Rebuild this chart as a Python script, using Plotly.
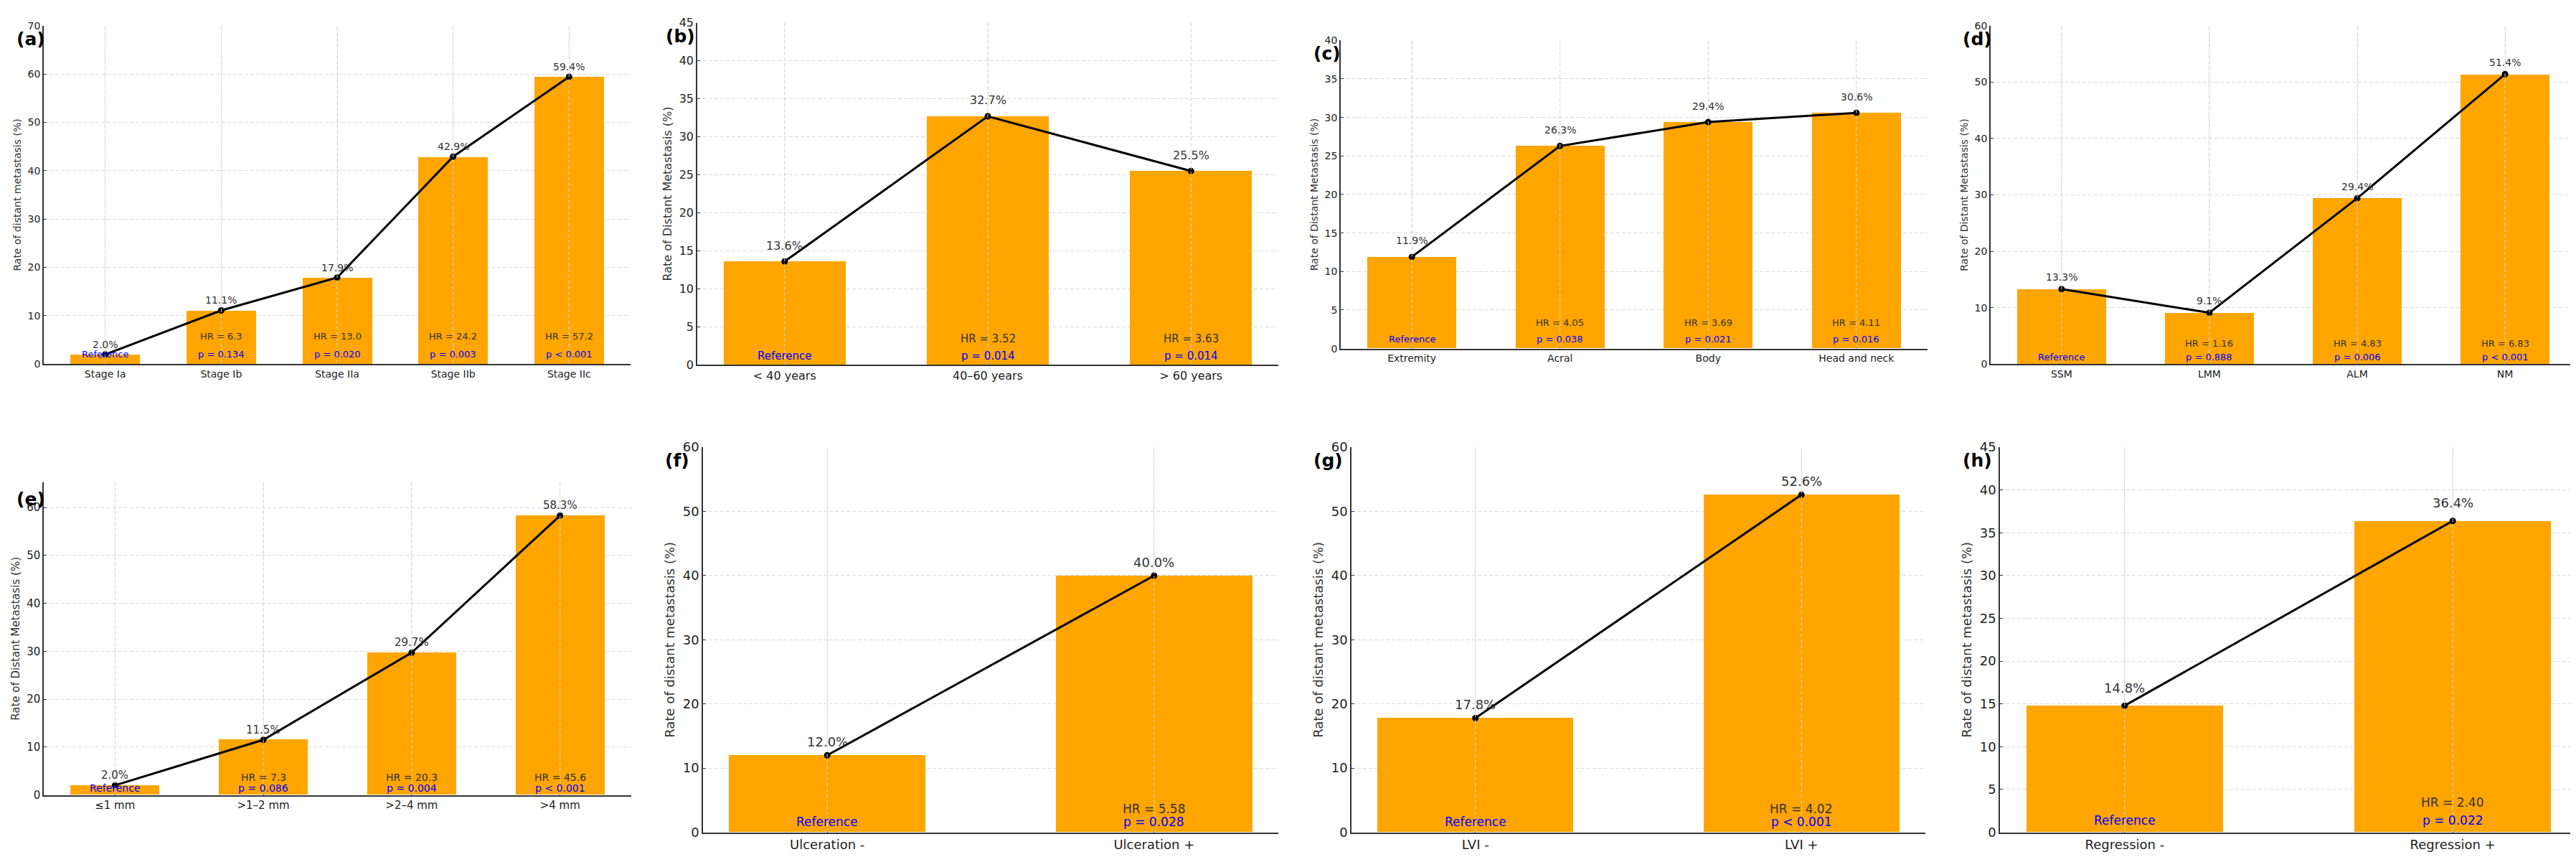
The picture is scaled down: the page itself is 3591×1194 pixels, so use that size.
import plotly.graph_objects as go

# ---- data ----
stage_cats = ["Stage Ia", "Stage Ib", "Stage IIa", "Stage IIb", "Stage IIc"]
stage_rate = [2.0, 11.1, 17.9, 42.9, 59.4]
stage_hr = ["", "6.3", "13.0", "24.2", "57.2"]
stage_p = ["", "= 0.134", "= 0.020", "= 0.003", "< 0.001"]

age_cats = ["< 40 years", "40–60 years", "> 60 years"]
age_rate = [13.6, 32.7, 25.5]
age_hr = ["", "3.52", "3.63"]
age_p = ["", "= 0.014", "= 0.014"]

site_cats = ["Extremity", "Acral", "Body", "Head and neck"]
site_rate = [11.9, 26.3, 29.4, 30.6]
site_hr = ["", "4.05", "3.69", "4.11"]
site_p = ["", "= 0.038", "= 0.021", "= 0.016"]

type_cats = ["SSM", "LMM", "ALM", "NM"]
type_rate = [13.3, 9.1, 29.4, 51.4]
type_hr = ["", "1.16", "4.83", "6.83"]
type_p = ["", "= 0.888", "= 0.006", "< 0.001"]

thick_cats = ["≤1 mm", ">1–2 mm", ">2–4 mm", ">4 mm"]
thick_rate = [2.0, 11.5, 29.7, 58.3]
thick_hr = ["", "7.3", "20.3", "45.6"]
thick_p = ["", "= 0.086", "= 0.004", "< 0.001"]

ulc_cats = ["Ulceration -", "Ulceration +"]
ulc_rate = [12.0, 40.0]
ulc_hr = ["", "5.58"]
ulc_p = ["", "= 0.028"]

lvi_cats = ["LVI -", "LVI +"]
lvi_rate = [17.8, 52.6]
lvi_hr = ["", "4.02"]
lvi_p = ["", "< 0.001"]

reg_cats = ["Regression -", "Regression +"]
reg_rate = [14.8, 36.4]
reg_hr = ["", "2.40"]
reg_p = ["", "= 0.022"]

W, H = 3591, 1194
FONT = "DejaVu Sans"
ORANGE = "#FFA500"
GRID = "#d9d9d9"

# panel layout in pixels: (left, right, top, bottom), y max, dtick, font size,
# y of HR text, y of p text, y-axis title
panels = [
    ("a", stage_cats, stage_rate, stage_hr, stage_p, (53, 871, 17, 497), 70, 10, 14, 5.7, 2.1,
     "Rate of distant metastasis (%)"),
    ("b", age_cats, age_rate, age_hr, age_p, (964, 1774, 13, 498), 45, 5, 16, 3.4, 1.2,
     "Rate of Distant Metastasis (%)"),
    ("c", site_cats, site_rate, site_hr, site_p, (1861, 2679, 38, 475), 40, 5, 14, 3.4, 1.2,
     "Rate of Distant Metastasis (%)"),
    ("d", type_cats, type_rate, type_hr, type_p, (2767, 3583, 17, 497), 60, 10, 14, 3.6, 1.3,
     "Rate of Distant Metastasis (%)"),
    ("e", thick_cats, thick_rate, thick_hr, thick_p, (53, 872, 665, 1108), 65.2, 10, 15, 3.7, 1.4,
     "Rate of Distant Metastasis (%)"),
    ("f", ulc_cats, ulc_rate, ulc_hr, ulc_p, (972, 1774, 615, 1161), 60, 10, 18, 3.6, 1.6,
     "Rate of distant metastasis (%)"),
    ("g", lvi_cats, lvi_rate, lvi_hr, lvi_p, (1876, 2676, 615, 1161), 60, 10, 18, 3.6, 1.6,
     "Rate of distant metastasis (%)"),
    ("h", reg_cats, reg_rate, reg_hr, reg_p, (2780, 3585, 615, 1161), 45, 5, 18, 3.5, 1.4,
     "Rate of distant metastasis (%)"),
]

# panel letter centres (pixels)
letter_pos = {"a": (35, 36), "b": (940, 32), "c": (1842, 56), "d": (2748, 36),
              "e": (35, 689), "f": (936, 634), "g": (1843, 634), "h": (2748, 634)}

fig = go.Figure()
layout = {}
annotations = []
shapes = []

for i, (letter, cats, rate, hr, pv, box, ymax, dtick, fs, hr_y, p_y, ytitle) in enumerate(panels):
    n = i + 1
    xa = "x" if n == 1 else f"x{n}"
    ya = "y" if n == 1 else f"y{n}"
    left, right, top, bottom = box

    fig.add_trace(go.Bar(x=cats, y=rate, width=0.6, marker_color=ORANGE,
                         marker_line_width=0, xaxis=xa, yaxis=ya, showlegend=False))
    fig.add_trace(go.Scatter(x=cats, y=rate, mode="lines+markers",
                             line=dict(color="black", width=3),
                             marker=dict(color="black", size=9),
                             xaxis=xa, yaxis=ya, showlegend=False))

    k = len(cats)
    span = (k - 1) + 0.6
    xr = [-0.3 - 0.05 * span, k - 1 + 0.3 + 0.05 * span]

    axis_common = dict(showline=True, linecolor="#333333", linewidth=1.5,
                       ticks="inside", ticklen=4, tickcolor="#333333",
                       showgrid=True, gridcolor=GRID, gridwidth=1, griddash="5px,3px",
                       tickfont=dict(family=FONT, size=fs, color="#222222"),
                       zeroline=False)
    layout["xaxis" if n == 1 else f"xaxis{n}"] = dict(
        axis_common, domain=[left / W, right / W], anchor=ya, type="category",
        categoryorder="array", categoryarray=cats, range=xr)
    layout["yaxis" if n == 1 else f"yaxis{n}"] = dict(
        axis_common, domain=[1 - bottom / H, 1 - top / H], anchor=xa,
        range=[0, ymax], dtick=dtick, tick0=0,
        title=dict(text=ytitle, font=dict(family=FONT, size=fs, color="#333333"), standoff=6))

    # vertical grid lines show through the bars in the reference
    for c in cats:
        shapes.append(dict(type="line", xref=xa, yref=f"{ya} domain", x0=c, x1=c, y0=0, y1=1,
                           line=dict(color=GRID, width=1, dash="5px,3px"), layer="above"))

    for c, v, h, p in zip(cats, rate, hr, pv):
        annotations.append(dict(x=c, y=v + 2.1, xref=xa, yref=ya, text=f"{v:.1f}%",
                                showarrow=False,
                                font=dict(family=FONT, size=fs, color="#333333")))
        if h == "":
            annotations.append(dict(x=c, y=p_y, xref=xa, yref=ya, text="Reference",
                                    showarrow=False,
                                    font=dict(family=FONT, size=fs - 1, color="blue")))
        else:
            annotations.append(dict(x=c, y=hr_y, xref=xa, yref=ya, text=f"HR = {h}",
                                    showarrow=False,
                                    font=dict(family=FONT, size=fs - 1, color="#333333")))
            annotations.append(dict(x=c, y=p_y, xref=xa, yref=ya, text=f"p {p}",
                                    showarrow=False,
                                    font=dict(family=FONT, size=fs - 1, color="blue")))

    lx, ly = letter_pos[letter]
    annotations.append(dict(x=lx / W, y=1 - ly / H, xref="paper", yref="paper",
                            text=f"<b>({letter})</b>", showarrow=False,
                            xanchor="center", yanchor="middle",
                            font=dict(family=FONT, size=25, color="black")))

fig.update_layout(**layout)
fig.update_layout(width=W, height=H, margin=dict(l=0, r=0, t=0, b=0),
                  paper_bgcolor="white", plot_bgcolor="white",
                  annotations=annotations, shapes=shapes, bargap=0)

fig.write_html("out.html")
